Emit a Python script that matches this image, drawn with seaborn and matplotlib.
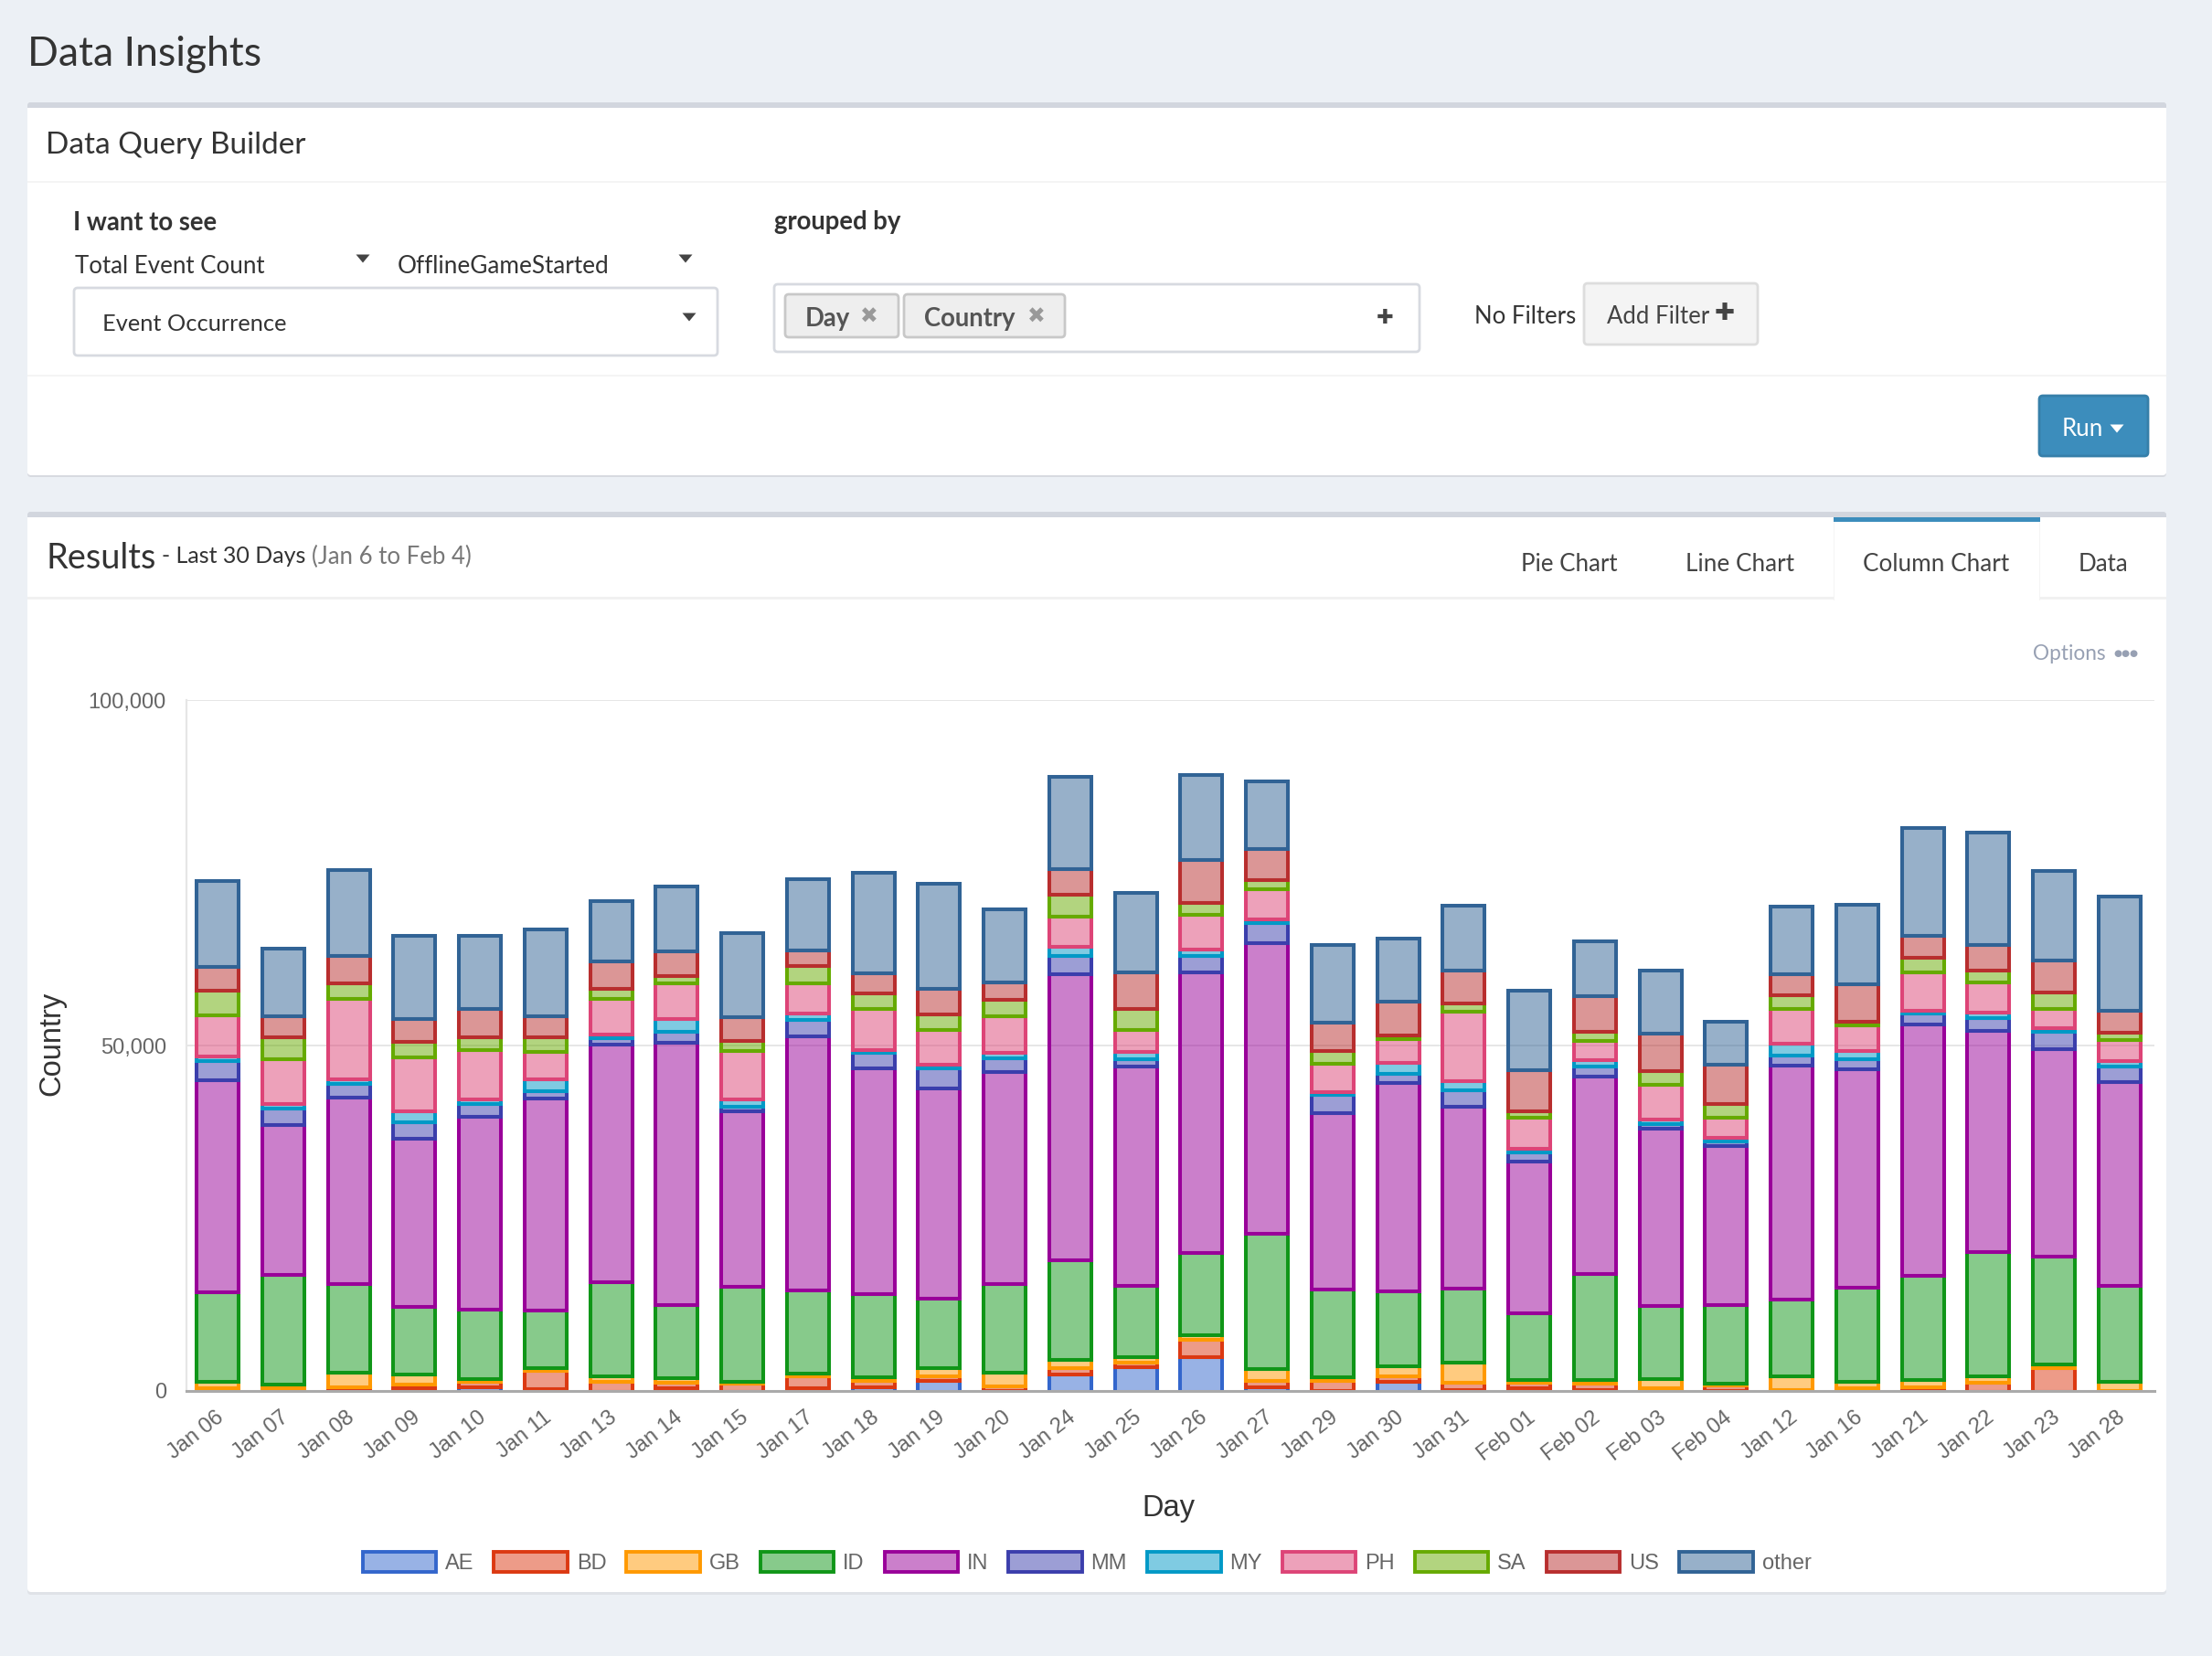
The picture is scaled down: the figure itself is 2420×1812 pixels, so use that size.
import matplotlib
matplotlib.use("Agg")
import matplotlib.pyplot as plt
import numpy as np
import seaborn as sns
from matplotlib.colors import to_rgba
from matplotlib.patches import FancyBboxPatch, Patch, Polygon, Rectangle
from matplotlib.transforms import ScaledTranslation

days = ["Jan 06", "Jan 07", "Jan 08", "Jan 09", "Jan 10", "Jan 11", "Jan 13", "Jan 14", "Jan 15", "Jan 17",
        "Jan 18", "Jan 19", "Jan 20", "Jan 24", "Jan 25", "Jan 26", "Jan 27", "Jan 29", "Jan 30", "Jan 31",
        "Feb 01", "Feb 02", "Feb 03", "Feb 04", "Jan 12", "Jan 16", "Jan 21", "Jan 22", "Jan 23", "Jan 28"]

ae = [125, 125, 625, 625, 810, 560, 125, 625, 125, 625, 810, 1750, 250, 2625, 3690,
      5190, 750, 310, 1625, 375, 625, 440, 250, 190, 60, 125, 250, 60, 60, 60]
bd = [500, 500, 125, 500, 750, 2625, 1500, 875, 1125, 1690, 940, 560, 690, 875, 690,
      2440, 940, 1440, 690, 1125, 875, 810, 375, 875, 310, 560, 560, 1375, 3560, 250]
gb = [1000, 560, 2125, 1500, 440, 310, 750, 560, 310, 440, 500, 1250, 2000, 1250, 750,
      750, 1750, 440, 1500, 2810, 375, 625, 1375, 190, 2060, 875, 1000, 940, 500, 1250]
id_ = [12940, 15810, 12810, 9750, 10000, 8375, 13560, 10690, 13750, 12060, 12060, 10060, 12810, 14440, 10375,
       11810, 19500, 12810, 10810, 10810, 9560, 15250, 10500, 11375, 11060, 13625, 15060, 17940, 15625, 13940]
in_ = [30625, 21690, 27000, 24440, 27940, 30750, 34440, 37940, 25375, 36750, 32690, 30440, 30690, 41440, 31690,
       40690, 42125, 25500, 30250, 26250, 22060, 28690, 25690, 23060, 33810, 31625, 36375, 32060, 30000, 29440]
mm = [2810, 2440, 2000, 2310, 1810, 1060, 1000, 1560, 750, 2375, 2250, 2940, 1940, 2560, 1060,
      2310, 2940, 2560, 1310, 2375, 1250, 1375, 690, 690, 1560, 1440, 1690, 1810, 2440, 2310]
my = [625, 625, 625, 1560, 690, 1690, 500, 1810, 1000, 875, 310, 500, 875, 1310, 1060,
      1000, 560, 500, 1560, 1310, 625, 1000, 625, 500, 1625, 1190, 375, 810, 625, 690]
ph = [6000, 6500, 11690, 7875, 7125, 4000, 5125, 5190, 7000, 4440, 5940, 5060, 5250, 4440, 3125,
      5000, 4310, 4000, 3375, 10125, 4375, 2690, 5060, 2940, 5060, 3690, 5500, 4375, 2750, 3060]
sa = [3500, 3190, 2190, 2190, 1940, 2125, 1440, 1060, 1500, 2440, 2310, 2190, 2375, 3125, 3060,
      1690, 1310, 1875, 560, 1125, 940, 1310, 2000, 2000, 2000, 500, 2125, 1690, 2375, 1060]
us = [3440, 3000, 4000, 3310, 4060, 3000, 3940, 3500, 3375, 2375, 2940, 3750, 2560, 3690, 5375,
      6190, 4500, 4125, 4940, 4750, 6000, 5250, 5375, 5625, 3060, 5500, 3190, 3690, 4625, 3190]
other = [12560, 9810, 12440, 12060, 10625, 12500, 8810, 9500, 12190, 10250, 14440, 15125, 10560, 13440, 11500,
         12310, 9810, 11250, 9125, 9500, 11560, 7875, 9125, 6310, 9810, 11500, 15560, 16375, 12940, 16625]

countries = ["AE", "BD", "GB", "ID", "IN", "MM", "MY", "PH", "SA", "US", "other"]
series = [ae, bd, gb, id_, in_, mm, my, ph, sa, us, other]
colors = ["#3366cc", "#dc3912", "#ff9900", "#109618", "#990099", "#3b3eac",
          "#0099c6", "#dd4477", "#66aa00", "#b82e2e", "#316395"]

W, H = 2420, 1812
UI_FONT = "Lato"
CHART_FONT = "Liberation Sans"
PAGE = "#ecf0f5"
BODY = 18.6
BOLD = 19.8

sns.set_theme(style="white")
plt.rcParams["font.family"] = [CHART_FONT, "DejaVu Sans"]

fig = plt.figure(figsize=(W / 100, H / 100), dpi=100, facecolor=PAGE)

# page furniture, in pixels of the screenshot
bg = fig.add_axes([0, 0, 1, 1], zorder=0)
bg.set_xlim(0, W)
bg.set_ylim(H, 0)
bg.axis("off")


def box(x0, y0, x1, y1, face, edge="none", lw=0, round_=4, z=4):
    bg.add_patch(FancyBboxPatch((x0, y0), x1 - x0, y1 - y0, boxstyle=f"round,pad=0,rounding_size={round_}",
                                facecolor=face, edgecolor=edge, linewidth=lw, zorder=z))


def rect(x0, y0, x1, y1, face, z=3):
    bg.add_patch(Rectangle((x0, y0), x1 - x0, y1 - y0, facecolor=face, edgecolor="none", zorder=z))


def label(x, y, s, size=BODY, color="#333333", weight="normal", family=UI_FONT, ha="left"):
    bg.text(x, y, s, fontsize=size, color=color, weight=weight, family=family, ha=ha, va="center_baseline", zorder=6)


def icon(x, y, s, size=15, color="#444444"):
    bg.text(x, y, s, fontsize=size, color=color, family="DejaVu Sans", ha="center", va="center", zorder=6)


def caret(x, y, color="#444444"):
    bg.add_patch(Polygon([(x - 7.5, y - 4.5), (x + 7.5, y - 4.5), (x, y + 4.5)], facecolor=color,
                         edgecolor="none", zorder=6))


label(30, 56, "Data Insights", size=32)

# query panel
box(30, 112, 2370, 522, "#d7dae0", z=1)
box(30, 112, 2370, 520, "#d2d6de", z=2)
box(30, 300, 2370, 520, "white", z=2.5)
rect(30, 118, 2370, 518, "white")
rect(30, 198, 2370, 200, "#f4f4f4")
rect(30, 410, 2370, 412, "#f4f4f4")
label(50, 156, "Data Query Builder", size=24)
label(80, 241, "I want to see", size=BOLD, weight="bold")
label(847, 241, "grouped by", size=BOLD, weight="bold")
label(82, 289, "Total Event Count")
caret(397, 283)
label(435, 289, "OfflineGameStarted", size=18.8)
caret(750, 283)

box(81, 315, 785, 389, "white", "#d7dae0", 2)
label(112, 353, "Event Occurrence", size=18.3)
caret(754, 347)

box(847, 311, 1553, 385, "white", "#d7dae0", 2)
box(859, 322, 983, 369, "#eeeeee", "#c8c8c8", 2)
label(881, 347, "Day", size=BOLD, color="#555555", weight="bold")
icon(951, 347, "✖", size=17, color="#999999")
box(989, 322, 1165, 369, "#eeeeee", "#c8c8c8", 2)
label(1011, 347, "Country", size=BOLD, color="#555555", weight="bold")
icon(1134, 347, "✖", size=17, color="#999999")
icon(1515, 348, "✚", size=16)

label(1613, 344, "No Filters", size=18.5)
box(1733, 310, 1923, 377, "#f4f4f4", "#dddddd", 2)
label(1758, 344, "Add Filter", size=18.5, color="#444444")
icon(1887, 343, "✚", size=19)

box(2231, 433, 2350, 499, "#3c8dbc", "#367fa9", 2)
label(2256, 467, "Run", color="white")
caret(2316, 469, color="white")

# results panel
box(30, 560, 2370, 1745, "#dfe2e7", z=1)
box(30, 560, 2370, 1742, "#d2d6de", z=2)
box(30, 1700, 2370, 1742, "white", z=2.5)
rect(30, 566, 2370, 1738, "white")
rect(30, 653, 2370, 656, "#f1f1f1")
label(50, 608, "Results", size=27.3)
label(177, 607, "- Last 30 Days", size=18)
label(341, 607, "(Jan 6 to Feb 4)", size=18.5, color="#777777")
label(1664, 615, "Pie Chart", color="#444444")
label(1844, 615, "Line Chart", size=18.8, color="#444444")
rect(2006, 566, 2232, 657, "#f4f4f4")
rect(2007, 566, 2231, 657, "white")
rect(2006, 566, 2232, 571, "#3c8dbc", z=4)
label(2038, 615, "Column Chart", size=18.8, color="#444444")
label(2274, 615, "Data", color="#444444")
label(2224, 714, "Options", size=16.3, color="#97a0b3")
icon(2326, 715, "●●●", size=7.5, color="#97a0b3")

# chart
ax = fig.add_axes([204 / W, (H - 1522) / H, (2356.5 - 204) / W, (1522 - 766) / H], zorder=1)
ax.patch.set_alpha(0)

# borders sit inside the segments in the original, so nudge the bars down by half a line
inset = ScaledTranslation(0, -1.9 / 100, fig.dpi_scale_trans)

bottom = np.zeros(len(days))
for name, vals, col in zip(countries, series, colors):
    n_before = len(ax.patches)
    sns.barplot(x=days, y=vals, order=days, bottom=bottom, color=col, saturation=1,
                width=0.64, linewidth=2.9, edgecolor=col, ax=ax)
    for bar in ax.patches[n_before:]:
        bar.set_facecolor(to_rgba(col, 0.5))
        bar.set_edgecolor(col)
        bar.set_linewidth(2.9)
        bar.set_transform(ax.transData + inset)
    bottom = bottom + np.array(vals)

ax.set_ylim(0, 100000)
ax.set_xlim(-0.475, len(days) - 0.475)
ax.set_yticks([0, 50000, 100000])
ax.set_yticklabels(["0", "50,000", "100,000"], fontsize=17, color="#666666", family=CHART_FONT)
ax.set_xticks(range(len(days)))
ax.set_xticklabels(days, fontsize=17, color="#666666", rotation=38, ha="right", va="top",
                   rotation_mode="anchor", family=CHART_FONT)
ax.set_xticks(np.arange(len(days) + 1) - 0.475, minor=True)
ax.tick_params(axis="x", which="major", length=0, pad=13)
ax.tick_params(axis="x", which="minor", length=15, width=1.2, color="#e6e6e6")
ax.tick_params(axis="y", length=9, width=1.4, color="#e6e6e6", pad=7)
# has to come after tick_params, which resets the label transforms
left_shift = ScaledTranslation(-3 / 100, 0, fig.dpi_scale_trans)
for tick_label in ax.get_xticklabels():
    tick_label.set_transform(tick_label.get_transform() + left_shift)
ax.set_axisbelow(True)
ax.xaxis.grid(False)
ax.yaxis.grid(True, color="#e6e6e6", linewidth=1.4)
for side in ("top", "right"):
    ax.spines[side].set_visible(False)
ax.spines["left"].set_color("#e6e6e6")
ax.spines["left"].set_linewidth(1.6)
ax.spines["bottom"].set_color("#aaaaaa")
ax.spines["bottom"].set_linewidth(2.2)

fig.text(57 / W, 1 - 1142 / H, "Country", fontsize=23.5, color="#333333", rotation=90,
         ha="center", va="center", family=CHART_FONT)
fig.text(1278 / W, 1 - 1650 / H, "Day", fontsize=23.5, color="#333333",
         ha="center", va="center", family=CHART_FONT)

handles = [Patch(facecolor=to_rgba(c, 0.5), edgecolor=c, linewidth=2.8) for c in colors]
fig.legend(handles, countries, loc="center", bbox_to_anchor=(1189 / W, 1 - 1710 / H), ncol=len(countries),
           frameon=False, labelcolor="#666666", handlelength=3.4, handleheight=1.1,
           handletextpad=0.42, columnspacing=0.94, borderpad=0, borderaxespad=0,
           prop={"family": CHART_FONT, "size": 17})

fig.savefig("out.png", dpi=100, facecolor=PAGE)
